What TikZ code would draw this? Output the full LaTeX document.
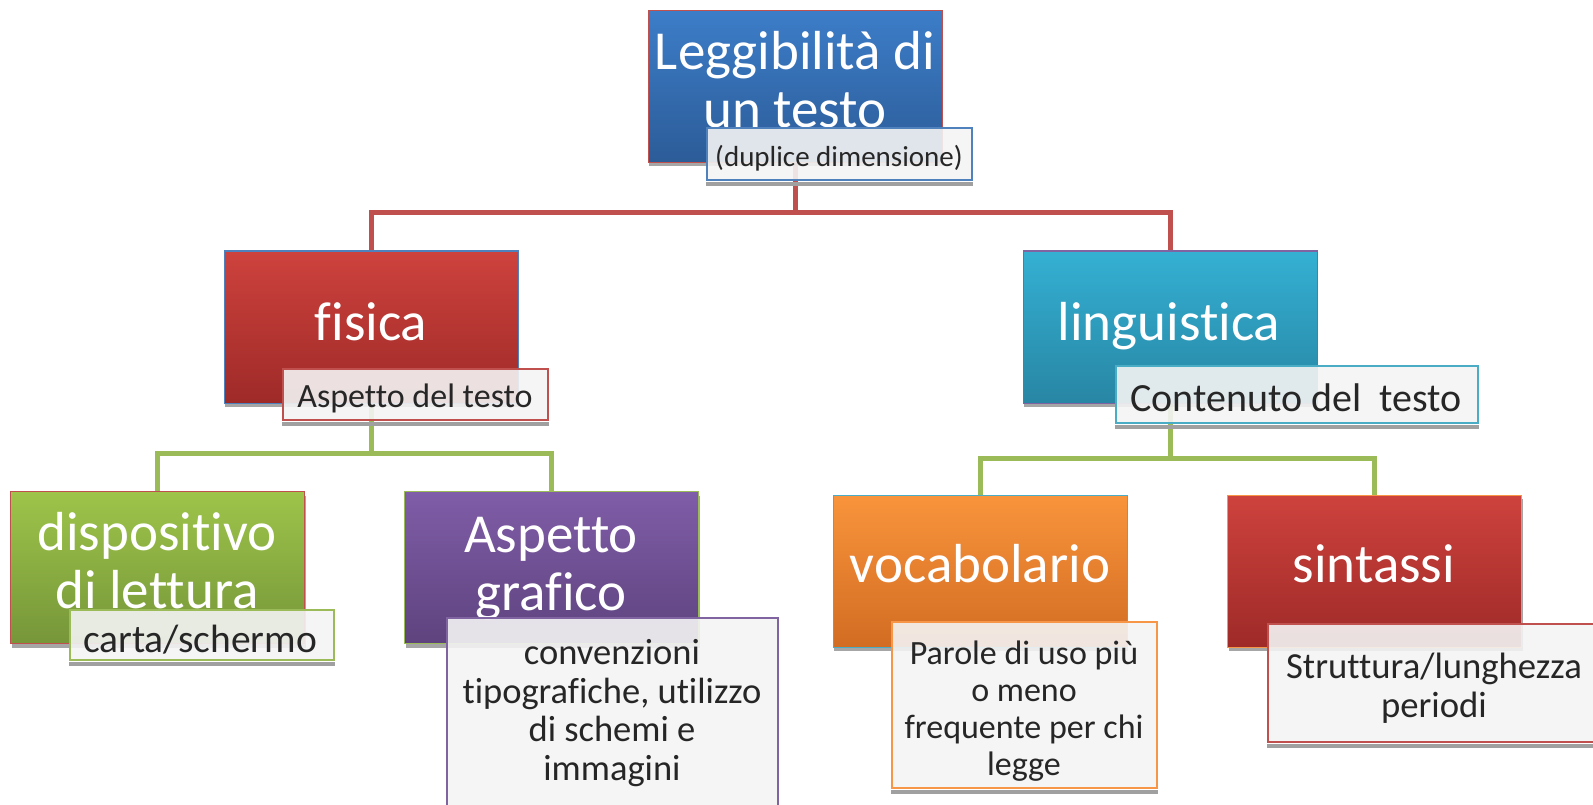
\documentclass[tikz,border=0pt]{standalone}
\usepackage{fontspec}
\setmainfont{Carlito}[Ligatures=NoCommon]
\usetikzlibrary{backgrounds,shadows}

\definecolor{bluT}{RGB}{60,125,200}
\definecolor{bluB}{RGB}{44,92,152}
\definecolor{rosT}{RGB}{206,66,61}
\definecolor{rosB}{RGB}{158,42,40}
\definecolor{aquT}{RGB}{52,176,211}
\definecolor{aquB}{RGB}{40,134,164}
\definecolor{verT}{RGB}{158,196,74}
\definecolor{verB}{RGB}{118,150,57}
\definecolor{viaT}{RGB}{128,93,168}
\definecolor{viaB}{RGB}{94,67,126}
\definecolor{araT}{RGB}{249,148,60}
\definecolor{araB}{RGB}{210,108,34}
\definecolor{acBlu}{RGB}{79,129,189}
\definecolor{acRos}{RGB}{192,80,77}
\definecolor{acVer}{RGB}{155,187,89}
\definecolor{acVia}{RGB}{128,100,162}
\definecolor{acAqu}{RGB}{75,172,198}
\definecolor{acAra}{RGB}{247,150,70}
\definecolor{tagfill}{RGB}{244,244,244}
\definecolor{tagtext}{RGB}{38,38,38}
\definecolor{ombra}{RGB}{160,160,160}

\tikzset{
  box/.style={minimum width=294pt, minimum height=152pt, inner sep=0pt, line width=1pt,
    drop shadow={shadow xshift=1pt, shadow yshift=-4pt, opacity=.35, fill=black}},
  tag/.style={inner sep=0pt, line width=1.5pt, fill=tagfill, fill opacity=.9},
  big/.style={text=white, font=\fontsize{55}{58}\selectfont, align=center, inner sep=0pt},
  small/.style={text=tagtext, align=center, inner sep=0pt},
  redline/.style={draw=acRos, line width=5pt},
  greenline/.style={draw=acVer, line width=5pt}
}

\begin{document}
\begin{tikzpicture}[x=1pt,y=-1pt]
\useasboundingbox (0,0) rectangle (1593,805);

\node[box, top color=bluT, bottom color=bluB, draw=acRos] (legg) at (795,86.5) {};
\node[box, top color=rosT, bottom color=rosB, draw=acBlu] (fisica) at (371,327) {};
\node[box, top color=aquT, bottom color=aquB, draw=acVia] (ling) at (1170,327) {};
\node[box, top color=verT, bottom color=verB, draw=acRos] (disp) at (157.5,567.5) {};
\node[box, top color=viaT, bottom color=viaB, draw=acVer] (graf) at (551.5,567.5) {};
\node[box, top color=araT, bottom color=araB, draw=acAqu] (vocab) at (980,571) {};
\node[box, top color=rosT, bottom color=rosB, draw=acAra] (sint) at (1374.5,571) {};

\begin{scope}[on background layer]
\coordinate (rosso) at (795,213);
\draw[redline] (legg.south) -- (rosso) -| (fisica.north);
\draw[redline] (rosso) -| (ling.north);
\coordinate (verdeA) at (371,453);
\draw[greenline] (fisica.south) -- (verdeA) -| (disp.north);
\draw[greenline] (verdeA) -| (graf.north);
\coordinate (verdeB) at (1170,458);
\draw[greenline] (ling.south) -- (verdeB) -| (vocab.north);
\draw[greenline] (verdeB) -| (sint.north);
\end{scope}

\node[big, anchor=base] (leggTxt) at (795,128) {Leggibilità di\\un testo};
\node[big, anchor=base] (fisicaTxt) at (371,340) {fisica};
\node[big, anchor=base] (lingTxt) at (1169,340) {linguistica};
\node[big, anchor=base] (dispTxt) at (157,608) {dispositivo\\di lettura};
\node[big, anchor=base] (grafTxt) at (551,610) {Aspetto\\grafico};
\node[big, anchor=base] (vocabTxt) at (980,582) {vocabolario};
\node[big, anchor=base] (sintTxt) at (1374,582) {sintassi};

\node[tag, draw=acBlu, minimum width=265pt, minimum height=52pt] (dup) at (839.5,154) {};
\node[tag, draw=acRos, minimum width=265pt, minimum height=51pt] (aspetto) at (415.5,394.5) {};
\node[tag, draw=acAqu, minimum width=362pt, minimum height=57pt] (contenuto) at (1297,394.5) {};
\node[tag, draw=acVer, minimum width=264pt, minimum height=50pt] (carta) at (202,635) {};
\node[tag, draw=acVia, minimum width=331pt, minimum height=212pt] (conv) at (612.5,724) {};
\node[tag, draw=acAra, minimum width=265pt, minimum height=166pt] (parole) at (1024.5,705) {};
\node[tag, draw=acRos, minimum width=332pt, minimum height=118pt] (strutt) at (1434,683) {};

\foreach \t in {dup,aspetto,contenuto,carta,conv,parole,strutt}
  \fill[ombra] ([yshift=-1pt]\t.south west) rectangle ([yshift=-5pt]\t.south east);

\node[small, anchor=base, font=\fontsize{29}{31}\selectfont] (dupTxt) at (839,167) {(duplice dimensione)};
\node[small, anchor=base, font=\fontsize{34}{36}\selectfont] (aspettoTxt) at (415,407) {Aspetto del testo};
\node[small, anchor=base, font=\fontsize{40}{42}\selectfont] (contenutoTxt) at (1296,411) {Contenuto del\ \ testo};
\node[small, anchor=base, font=\fontsize{39.5}{42}\selectfont] (cartaTxt) at (200,652) {carta/schermo};
\node[small, anchor=base, font=\fontsize{36.5}{38.5}\selectfont] (convTxt) at (612,780) {convenzioni\\tipografiche, utilizzo\\di schemi e\\immagini};
\node[small, anchor=base, font=\fontsize{34}{37}\selectfont] (paroleTxt) at (1024,775) {Parole di uso più\\o meno\\frequente per chi\\legge};
\node[small, anchor=base, font=\fontsize{36.7}{39}\selectfont] (struttTxt) at (1434,717) {Struttura/lunghezza\\periodi};
\end{tikzpicture}
\end{document}
